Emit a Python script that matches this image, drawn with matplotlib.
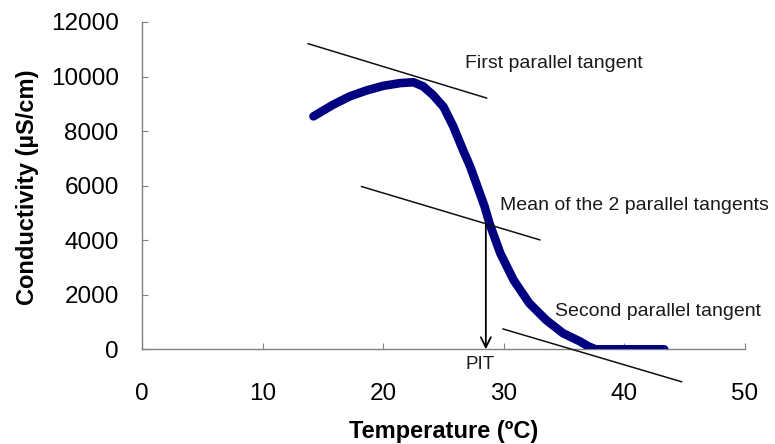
import matplotlib
matplotlib.use("Agg")
import matplotlib.pyplot as plt

plt.rcParams['font.family'] = ['Liberation Sans', 'DejaVu Sans']

# Conductivity scan through the phase inversion
temperature = [14.2, 15.8, 17.2, 18.6, 20.0, 21.4, 22.5, 23.3, 24.1, 25.0,
               25.8, 26.6, 27.2, 27.7, 28.4, 28.8, 29.7, 30.8, 32.1, 33.5,
               34.9, 36.3, 37.0, 37.6, 40.0, 43.3]
conductivity = [8540, 8960, 9270, 9490, 9660, 9760, 9790, 9640, 9330, 8880,
                8170, 7310, 6700, 6090, 5230, 4620, 3520, 2540, 1690, 1075,
                590, 290, 110, 0, 0, 0]

# Construction lines (end points)
first_T, first_C = [13.76, 28.56], [11204, 9211]
mean_T, mean_C = [18.19, 32.98], [5967, 4011]
second_T, second_C = [29.93, 44.73], [745, -1189]

# Phase inversion temperature
pit_T, pit_C = 28.5, 4620

x_ticks = [0, 10, 20, 30, 40, 50]
y_ticks = [0, 2000, 4000, 6000, 8000, 10000, 12000]

fig = plt.figure(figsize=(7.75, 4.44), dpi=100)
ax = fig.add_axes([0.1836, 0.2133, 0.7777, 0.7372])

ax.plot(temperature, conductivity, color='#000080', lw=6.2,
        solid_capstyle='round', solid_joinstyle='round', zorder=3)

for xs, ys in [(first_T, first_C), (mean_T, mean_C), (second_T, second_C)]:
    ax.plot(xs, ys, color='#111111', lw=1.1, clip_on=False, zorder=4)

ax.annotate('', xy=(pit_T, 0), xytext=(pit_T, pit_C),
            arrowprops=dict(arrowstyle='->', color='black', lw=1.3,
                            mutation_scale=18, shrinkA=0, shrinkB=0),
            zorder=5)

txt_kw = dict(fontsize=14, color='#1a1a1a')
ax.text(26.77, 10480, 'First parallel tangent', va='center', ha='left', **txt_kw)
ax.text(29.66, 5290, 'Mean of the 2 parallel tangents', va='center', ha='left', **txt_kw)
ax.text(34.2, 1370, 'Second parallel tangent', va='center', ha='left', **txt_kw)
ax.text(28.0, -570, 'PIT', va='center', ha='center', fontsize=13.5, color='#1a1a1a',
        clip_on=False)

ax.set_xlim(0, 50)
ax.set_ylim(0, 12000)
ax.set_xticks(x_ticks)
ax.set_yticks(y_ticks)

for side in ['top', 'right']:
    ax.spines[side].set_visible(False)
for side in ['left', 'bottom']:
    ax.spines[side].set_color('#808080')
    ax.spines[side].set_linewidth(1.0)

ax.tick_params(axis='x', direction='in', length=4, color='#808080',
               labelsize=17.5, pad=24)
ax.tick_params(axis='y', direction='in', length=4, color='#808080',
               labelsize=17.5, pad=17)

ax.set_xlabel('Temperature (ºC)', fontsize=17, fontweight='bold')
ax.set_ylabel('Conductivity (µS/cm)', fontsize=17, fontweight='bold')
ax.xaxis.set_label_coords(0.5, -0.252)
ax.xaxis.label.set_verticalalignment('center')
ax.yaxis.set_label_coords(-0.191, 0.496)
ax.yaxis.label.set_verticalalignment('center')

fig.savefig('out.png', dpi=100)
